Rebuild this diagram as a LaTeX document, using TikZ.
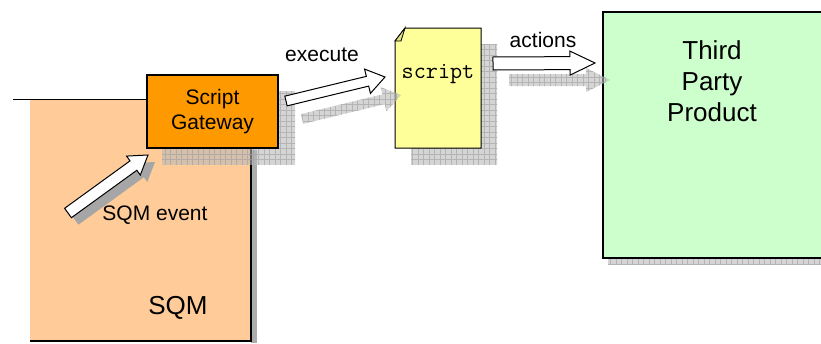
\documentclass[tikz,border=0pt]{standalone}
\usepackage{fontspec}
\setmainfont{Liberation Sans}
\usepackage{tikz}
\usetikzlibrary{calc}
\definecolor{sqmpeach}{HTML}{FFCC99}
\definecolor{gateorange}{HTML}{FF9900}
\definecolor{scriptyellow}{HTML}{FFFF99}
\definecolor{thirdgreen}{HTML}{CCFFCC}
% block arrow: #1 style, #2 tail, #3 tip, #4 half shaft, #5 half head, #6 head length
\newcommand{\blockarrow}[6]{
	\path[#1] ($(#2)!#4!-90:(#3)$) -- ($($(#3)!#6!(#2)$)!#4!-90:(#3)$)
		-- ($($(#3)!#6!(#2)$)!#5!-90:(#3)$) -- (#3)
		-- ($($(#3)!#6!(#2)$)!#5!90:(#3)$) -- ($($(#3)!#6!(#2)$)!#4!90:(#3)$)
		-- ($(#2)!#4!90:(#3)$) -- cycle;
}
% checkered shadow over a clip path
\newcommand{\checkershadow}[1]{
	\begin{scope}
	\clip #1;
	\fill[gray!55, opacity=0.6] (0,0) rectangle (821,343);
	\draw[gray!75, line width=0.5pt, opacity=0.6, step=5.5pt] (0,0) grid (821,343);
	\end{scope}
}

\begin{document}
\begin{tikzpicture}[x=1pt,y=-1pt, font=\fontsize{21}{25}\selectfont]
	\clip (0,0) rectangle (821,343);

	% SQM
	\fill[sqmpeach] (30,100) rectangle (251,341);
	\fill[gray!65] (251,150) rectangle (257,343);
	\draw[line width=1.5pt] (13,99.5) -- (147,99.5);
	\draw[line width=2pt] (251,100) -- (251,341) -- (30,341);
	\node (sqm) at (178,308) {\fontsize{26}{30}\selectfont SQM};

	% gateway
	\checkershadow{(162,91) rectangle (295,164)}
	\node[draw=black, line width=1.5pt, fill=gateorange, minimum width=131pt, minimum height=73pt,
		inner sep=0pt, align=center] (gateway) at (212.5,111.5) {Script\\Gateway};

	% script document
	\checkershadow{(411,44) rectangle (497,164)}
	\draw[fill=scriptyellow, line width=1pt] (405,28) -- (481,28) -- (481,148) -- (395,148)
		-- (395,41) -- cycle;
	\draw[fill=scriptyellow!80!black!60!scriptyellow, line width=0.8pt] (405,28) -- (401,41) -- (395,41) -- cycle;
	\node (script) at (438,74) {\fontsize{23.5}{26}\selectfont\ttfamily script};

	% third party product
	\checkershadow{(608,258) rectangle (821,264)}
	\draw[fill=thirdgreen, line width=2pt] (603,12) rectangle (830,258);
	\node[align=center, font=\fontsize{26}{31}\selectfont] (third) at (712,81) {Third\\Party\\Product};

	% arrow ends
	\coordinate (evtail) at (68,213);
	\coordinate (evtip) at (148,155);
	\coordinate (evtails) at (75,220);
	\coordinate (evtips) at (155,162);
	\coordinate (extail) at (286,101);
	\coordinate (extip) at (385,77);
	\coordinate (extails) at (302,119);
	\coordinate (extips) at (401,95);
	\coordinate (actail) at (493,63.5);
	\coordinate (actip) at (595,63);
	\coordinate (actails) at (509,80);
	\coordinate (actips) at (610,80);

	% SQM event
	\blockarrow{fill=gray!70}{evtails}{evtips}{5.8pt}{11.7pt}{18pt}
	\blockarrow{draw=black, fill=white, line width=1pt}{evtail}{evtip}{5.8pt}{11.7pt}{18pt}
	\node (evlabel) at (155,215) {SQM event};

	% execute
	\begin{scope}
	\blockarrow{clip}{extails}{extips}{5pt}{12.5pt}{18pt}
	\fill[gray!55, opacity=0.6] (0,0) rectangle (821,343);
	\draw[gray!75, line width=0.5pt, opacity=0.6, step=5.5pt] (0,0) grid (821,343);
	\end{scope}
	\blockarrow{draw=black, fill=white, line width=1pt}{extail}{extip}{5pt}{12.5pt}{18pt}
	\node (exlabel) at (322,55) {execute};

	% actions
	\begin{scope}
	\blockarrow{clip}{actails}{actips}{6pt}{12pt}{24pt}
	\fill[gray!55, opacity=0.6] (0,0) rectangle (821,343);
	\draw[gray!75, line width=0.5pt, opacity=0.6, step=5.5pt] (0,0) grid (821,343);
	\end{scope}
	\blockarrow{draw=black, fill=white, line width=1pt}{actail}{actip}{6.5pt}{12pt}{25pt}
	\node (aclabel) at (543,40) {actions};

\end{tikzpicture}
\end{document}
